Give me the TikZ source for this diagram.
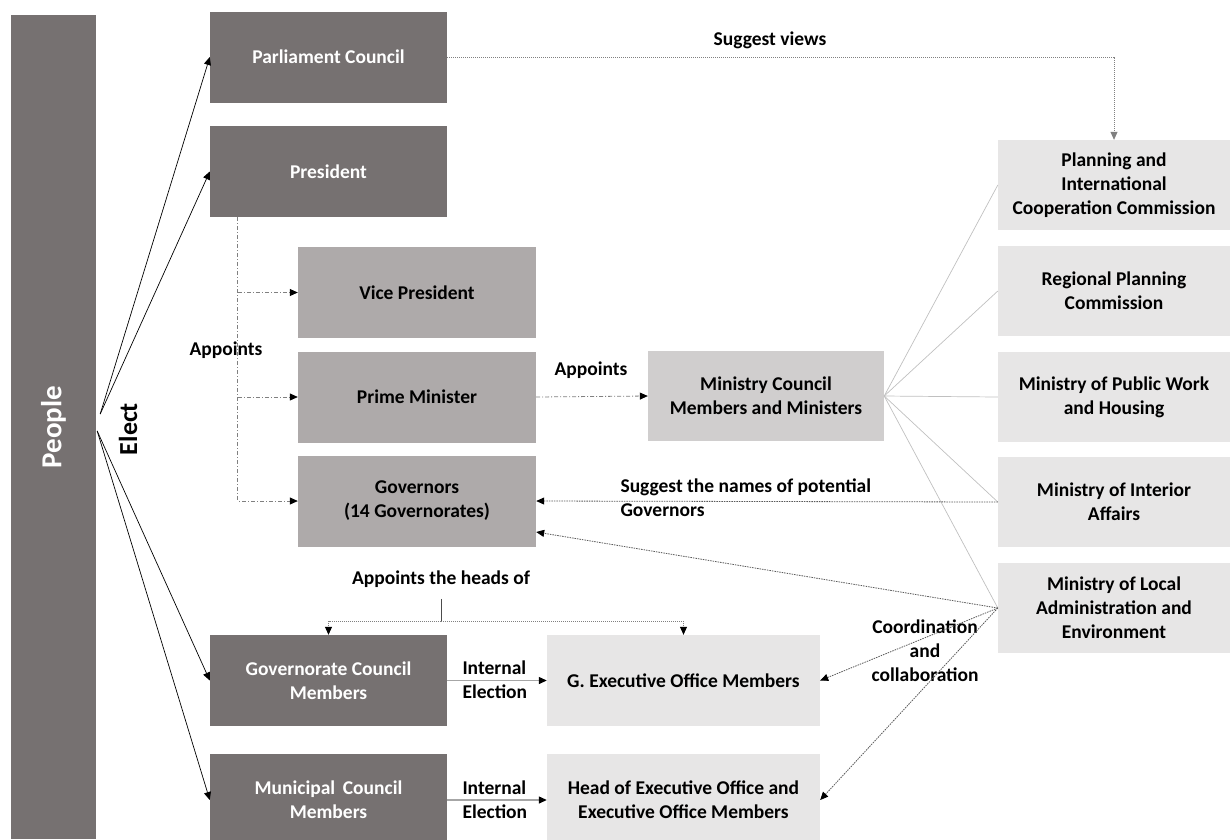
\documentclass[tikz,border=0pt]{standalone}
\usepackage{fontspec}
\setmainfont{Carlito}
\usepackage{graphicx}
\usepackage{tikz}
\usetikzlibrary{arrows.meta,calc}
\definecolor{dark}{HTML}{767171}
\definecolor{mid}{HTML}{AEAAAA}
\definecolor{pale}{HTML}{D0CECE}
\definecolor{light}{HTML}{E7E6E6}
\definecolor{wire}{HTML}{808080}
\definecolor{fanline}{HTML}{C0C0C0}
\definecolor{hintline}{HTML}{595959}

\begin{document}
\begin{tikzpicture}[x=1pt,y=-1pt,font=\fontsize{19.5}{24}\selectfont\bfseries,
  >={Triangle[length=8pt,width=7pt,color=black]},
  box/.style={inner sep=2pt,align=center,minimum height=91pt},
  darkbox/.style={box,fill=dark,text=white,minimum width=237pt},
  midbox/.style={box,fill=mid,minimum width=238pt},
  sidebox/.style={box,fill=light,minimum width=232pt,minimum height=90pt},
  officebox/.style={box,fill=light,minimum width=273pt},
  elect/.style={->,black,line width=0.7pt},
  appoint/.style={->,wire,line width=0.8pt,dash pattern=on 4pt off 2pt on 1pt off 2pt},
  hint/.style={->,hintline,line width=0.8pt,dash pattern=on 1.5pt off 1pt},
  fan/.style={fanline,line width=0.7pt},
  inner/.style={->,black!35,line width=1.2pt}]
\useasboundingbox (0,0) rectangle (1230,839);
% the people and the boxes they elect
\node[fill=dark,text=white,minimum width=85pt,minimum height=824pt,inner sep=0pt,
  font=\fontsize{29}{34}\selectfont\bfseries] (people) at (53.5,427) {\rotatebox{90}{People}};
\node[rotate=90,font=\fontsize{26}{30}\selectfont\bfseries] (electlbl) at (128,429) {Elect};
\node[darkbox] (parl) at (328.5,57) {Parliament Council};
\node[darkbox] (pres) at (328.5,171.5) {President};
\node[midbox] (vp) at (417,292.5) {Vice President};
\node[midbox] (pm) at (417,397) {Prime Minister};
\node[midbox] (gov) at (417,501) {Governors\\(14 Governorates)};
\node[box,fill=pale,minimum width=236pt,minimum height=90pt] (mcm) at (766,396) {Ministry Council\\Members and Ministers};
\node[darkbox] (gcm) at (328.5,680.5) {Governorate Council\\Members};
\node[officebox] (gexe) at (683.5,680.5) {G. Executive Office Members};
\node[darkbox,minimum height=92pt] (mun) at (328.5,800) {Municipal\, Council\\Members};
\node[officebox,minimum height=92pt] (head) at (683.5,800) {Head of Executive Office and\\Executive Office Members};
% right column
\node[sidebox] (plan) at (1114,185) {Planning and\\International\\Cooperation Commission};
\node[sidebox] (reg) at (1114,291) {Regional Planning\\Commission};
\node[sidebox] (pwh) at (1114,397) {Ministry of Public Work\\and Housing};
\node[sidebox] (intr) at (1114,502) {Ministry of Interior\\Affairs};
\node[sidebox] (loc) at (1114,608) {Ministry of Local\\Administration and\\Environment};
% labels
\node (views) at (770,40) {Suggest views};
\node (appts) at (226,350) {Appoints};
\node (appmin) at (591,370) {Appoints};
\node[anchor=west,align=left] (names) at (617,498) {Suggest the names of potential\\Governors};
\node (heads) at (441,579) {Appoints the heads of};
\node[anchor=west,align=left] (ie1) at (459,680) {Internal\\Election};
\node[anchor=west,align=left] (ie2) at (459,800) {Internal\\Election};
\node[align=center] (coord) at (925,651) {Coordination\\and\\collaboration};
% elect arrows
\coordinate (up) at ($(people.east)+(4,-13)$);
\coordinate (low) at ($(people.east)+(1,4)$);
\foreach \t/\s in {parl/up,pres/up,gcm/low,mun/low} {\draw[elect] (\s) -- (\t.west);}
% president appoints
\coordinate (trunk) at ($(pres.south west)+(28,0)$);
\draw[appoint] (trunk) |- (gov.west);
\draw[appoint] (trunk |- vp.west) -- (vp.west);
\draw[appoint] (trunk |- pm.west) -- (pm.west);
\draw[appoint] (pm.east) -- (mcm.west);
% parliament to planning
\draw[-{Triangle[length=8pt,width=7pt]},wire,line width=0.8pt,dash pattern=on 1pt off 1pt] (parl.east) -| (plan.north);
% ministries fan
\foreach \m in {plan,reg,pwh,intr,loc} {\draw[fan] (mcm.east) -- (\m.west);}
% interior and local administration
\draw[hint] (intr.west) -- (gov.east);
\draw[hint] (loc.west) -- ([yshift=-31pt]gov.east);
\draw[hint] (loc.west) -- (gexe.east);
\draw[hint] (loc.west) -- (head.east);
% heads of executive offices
\coordinate (fork) at (441,621);
\draw[black!70,line width=0.8pt] ([yshift=-8pt]heads.south) -- (fork);
\draw[->,wire,line width=0.8pt,dash pattern=on 1pt off 1pt] (fork) -| (gcm.north);
\draw[->,wire,line width=0.8pt,dash pattern=on 1pt off 1pt] (fork) -| (gexe.north);
% internal election
\draw[inner] (gcm.east) -- (gexe.west);
\draw[inner] (mun.east) -- (head.west);
\end{tikzpicture}
\end{document}
